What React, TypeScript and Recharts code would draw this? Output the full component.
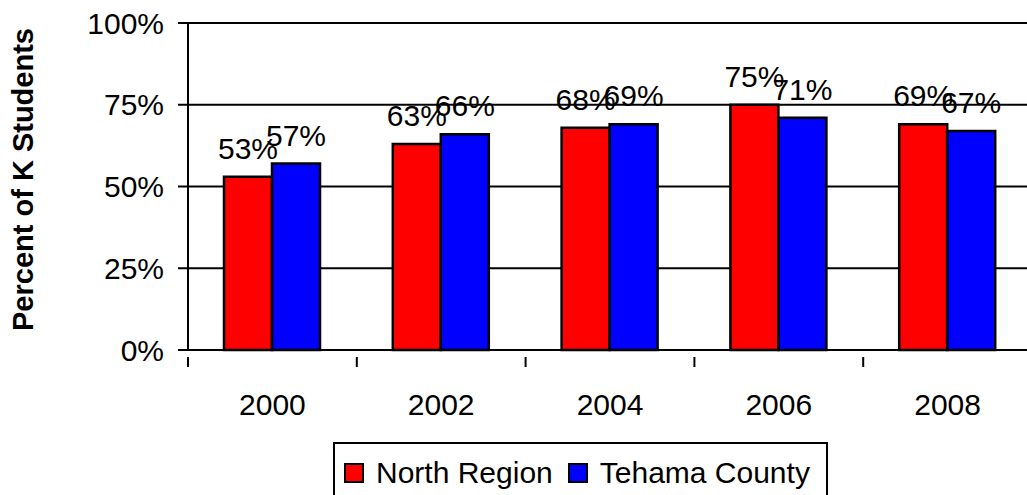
import React from 'react';
import { BarChart, Bar, XAxis, YAxis, CartesianGrid, Legend, LabelList } from 'recharts';

const years = ['2000', '2002', '2004', '2006', '2008'];
const northRegion = [53, 63, 68, 75, 69];
const tehamaCounty = [57, 66, 69, 71, 67];
const yTicks = [0, 25, 50, 75, 100];

const data = years.map((year, i) => ({
  year,
  north: northRegion[i],
  tehama: tehamaCounty[i],
}));

const FONT = '"Liberation Sans", Arial, sans-serif';
const FS = 30;
const CHART_W = 1040;
const CHART_H = 495;
const MARGIN = { top: 23, right: 8, left: 0, bottom: 85 };
const Y_AXIS_W = 188;
const HALF_BAND = (CHART_W - MARGIN.left - MARGIN.right - Y_AXIS_W) / years.length / 2;

// category ticks sit at the band edges, labels at the centres
const YearTick = (props: any) => {
  const { x, y, payload, index } = props;
  const left = x - HALF_BAND;
  return (
    <g>
      <line x1={left} y1={y - 1} x2={left} y2={y + 9} stroke="#000" strokeWidth={2} />
      {index === years.length - 1 && (
        <line x1={x + HALF_BAND} y1={y - 1} x2={x + HALF_BAND} y2={y + 9} stroke="#000" strokeWidth={2} />
      )}
      <text x={x} y={y + 57} textAnchor="middle" fontSize={FS} fill="#000" fontFamily={FONT}>
        {payload.value}
      </text>
    </g>
  );
};

const AxisTitle = (props: any) => {
  const { viewBox } = props;
  const cy = viewBox.y + viewBox.height / 2 - 7;
  return (
    <text
      x={33}
      y={cy}
      transform={`rotate(-90, 33, ${cy})`}
      textAnchor="middle"
      fontSize={29}
      fontWeight="bold"
      fill="#000"
      fontFamily={FONT}
    >
      Percent of K Students
    </text>
  );
};

const LegendBox = (props: any) => {
  const { payload } = props;
  return (
    <div
      style={{
        display: 'flex',
        alignItems: 'center',
        border: '2px solid #000',
        padding: '14px 16px 20px 9px',
        background: '#fff',
        fontFamily: FONT,
        fontSize: FS,
        color: '#000',
        lineHeight: '30px',
      }}
    >
      {payload.map((entry: any, i: number) => (
        <div key={entry.value} style={{ display: 'flex', alignItems: 'center', marginLeft: i ? 15 : 0 }}>
          <span
            style={{
              width: 16,
              height: 16,
              border: '2px solid #000',
              background: entry.color,
              display: 'inline-block',
              marginRight: 12,
            }}
          />
          <span>{entry.value}</span>
        </div>
      ))}
    </div>
  );
};

export default function App() {
  return (
    <div style={{ width: 1027, height: CHART_H, overflow: 'hidden', position: 'relative', background: '#fff' }}>
      <style>{'body{margin:0}'}</style>
      <BarChart
        width={CHART_W}
        height={CHART_H}
        data={data}
        margin={MARGIN}
        barCategoryGap={36}
        barGap={0}
      >
        <CartesianGrid horizontal vertical={false} stroke="#000" strokeWidth={2} />
        <XAxis
          dataKey="year"
          height={60}
          axisLine={{ stroke: '#000', strokeWidth: 2 }}
          tickLine={false}
          tick={<YearTick />}
          interval={0}
        />
        <YAxis
          width={Y_AXIS_W}
          domain={[0, 100]}
          ticks={yTicks}
          interval={0}
          tickFormatter={(v) => `${v}%`}
          axisLine={{ stroke: '#000', strokeWidth: 2 }}
          tickLine={{ stroke: '#000', strokeWidth: 2 }}
          tickSize={10}
          tickMargin={14}
          tick={{ fill: '#000', fontSize: FS, fontFamily: FONT }}
          label={<AxisTitle />}
        />
        <Legend
          layout="horizontal"
          verticalAlign="middle"
          align="center"
          content={<LegendBox />}
          wrapperStyle={{ top: 442, left: 333, width: 'auto', height: 'auto' }}
        />
        <Bar dataKey="north" name="North Region" fill="#FF0000" stroke="#000" strokeWidth={2.5} isAnimationActive={false}>
          <LabelList dataKey="north" position="top" offset={18} formatter={(v: any) => `${v}%`}
            style={{ fontSize: FS, fill: '#000', fontFamily: FONT }} />
        </Bar>
        <Bar dataKey="tehama" name="Tehama County" fill="#0000FF" stroke="#000" strokeWidth={2.5} isAnimationActive={false}>
          <LabelList dataKey="tehama" position="top" offset={18} formatter={(v: any) => `${v}%`}
            style={{ fontSize: FS, fill: '#000', fontFamily: FONT }} />
        </Bar>
      </BarChart>
    </div>
  );
}
